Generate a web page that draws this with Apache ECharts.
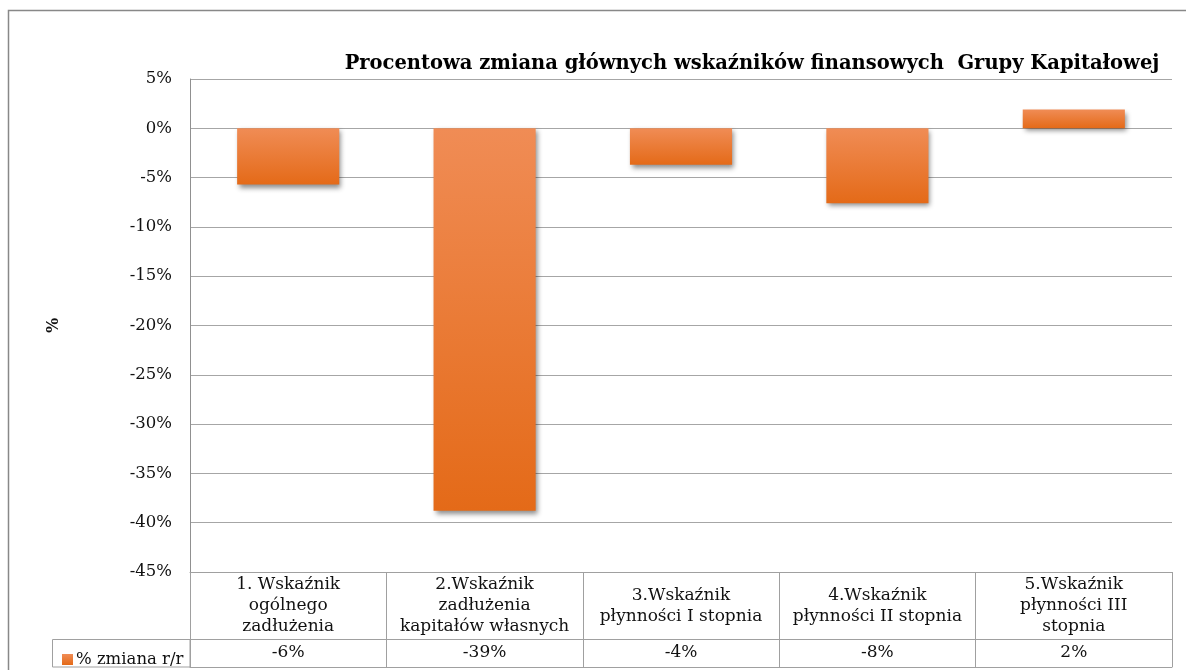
<!DOCTYPE html>
<html>
<head>
<meta charset="utf-8">
<script src="https://cdn.jsdelivr.net/npm/echarts@6/dist/echarts.min.js"></script>
<style>html,body{margin:0;padding:0;background:#fff}#c{width:1186px;height:670px}</style>
</head>
<body>
<div id="c"></div>
<script>
var titleText = 'Procentowa zmiana głównych wskaźników finansowych  Grupy Kapitałowej';
var seriesName = '% zmiana r/r';
var categories = [
  '1. Wskaźnik\nogólnego\nzadłużenia',
  '2.Wskaźnik\nzadłużenia\nkapitałów własnych',
  '3.Wskaźnik\npłynności I stopnia',
  '4.Wskaźnik\npłynności II stopnia',
  '5.Wskaźnik\npłynności III\nstopnia'
];
var values = [-5.7, -38.8, -3.7, -7.6, 1.9];
var valueLabels = ['-6%', '-39%', '-4%', '-8%', '2%'];
var yMin = -45, yMax = 5, yStep = 5;

var FONT = 'DejaVu Serif';
var chart = echarts.init(document.getElementById('c'));
chart.setOption({
  animation: false,
  backgroundColor: '#ffffff',
  title: {
    text: titleText,
    left: 747, top: 49, textAlign: 'center',
    textStyle: {fontFamily: FONT, fontWeight: 'bold', fontSize: 19.5, color: '#000'}
  },
  legend: {
    left: 57, top: 646, itemWidth: 11, itemHeight: 11, itemGap: 0,
    icon: 'rect', selectedMode: false,
    data: [seriesName],
    textStyle: {fontFamily: FONT, fontSize: 16.5, color: '#111', padding: [0,0,0,-2]}
  },
  grid: {left: 190, right: 14, top: 79, bottom: 98, containLabel: false},
  xAxis: [
    {
      type: 'category', data: categories, position: 'bottom',
      axisLine: {onZero: false, lineStyle: {color: '#A0A0A0', width: 1}},
      axisTick: {show: true, length: 95, interval: 0, lineStyle: {color: '#A0A0A0'}},
      axisLabel: {interval: 0, hideOverlap: false, margin: 34, verticalAlign: 'middle',
        fontFamily: FONT, fontSize: 17, lineHeight: 21, color: '#111'},
      splitLine: {show: false}
    },
    {
      type: 'category', data: categories, position: 'bottom', offset: 67,
      axisLine: {onZero: false, lineStyle: {color: '#A0A0A0', width: 1}},
      axisTick: {show: false},
      axisLabel: {interval: 0, hideOverlap: false, margin: 14, verticalAlign: 'middle',
        fontFamily: FONT, fontSize: 17, color: '#111',
        formatter: function (v, i) { return valueLabels[i]; }},
      splitLine: {show: false}
    },
    {
      type: 'category', data: categories, position: 'bottom', offset: 95,
      axisLine: {onZero: false, lineStyle: {color: '#A0A0A0', width: 1}},
      axisTick: {show: false}, axisLabel: {show: false}, splitLine: {show: false}
    }
  ],
  yAxis: {
    type: 'value', min: yMin, max: yMax, interval: yStep,
    name: '%', nameLocation: 'middle', nameRotate: 90, nameGap: 128,
    nameTextStyle: {fontFamily: FONT, fontWeight: 'bold', fontSize: 16, color: '#111'},
    axisLine: {show: true, lineStyle: {color: '#909090', width: 1}},
    axisTick: {show: false},
    axisLabel: {formatter: '{value}%', margin: 18, fontFamily: FONT, fontSize: 16.5, color: '#111'},
    splitLine: {show: true, lineStyle: {color: '#A6A6A6', width: 1}}
  },
  graphic: [
    {type: 'rect', shape: {x: 8.5, y: 10.5, width: 1200, height: 700},
      style: {fill: null, stroke: '#888888', lineWidth: 1.5}, silent: true, z: -10},
    {type: 'rect', shape: {x: 52.5, y: 639.5, width: 137.5, height: 27.5},
      style: {fill: null, stroke: '#A0A0A0', lineWidth: 1}, silent: true}
  ],
  series: [{
    name: seriesName, type: 'bar', xAxisIndex: 0, data: values, barWidth: '52%',
    itemStyle: {
      color: new echarts.graphic.LinearGradient(0, 0, 0, 1, [
        {offset: 0, color: '#F08C55'}, {offset: 1, color: '#E46A18'}
      ]),
      shadowColor: 'rgba(0,0,0,0.45)', shadowBlur: 5, shadowOffsetX: 2, shadowOffsetY: 3
    }
  }],
  color: ['#F07F2D']
});
</script>
</body>
</html>
